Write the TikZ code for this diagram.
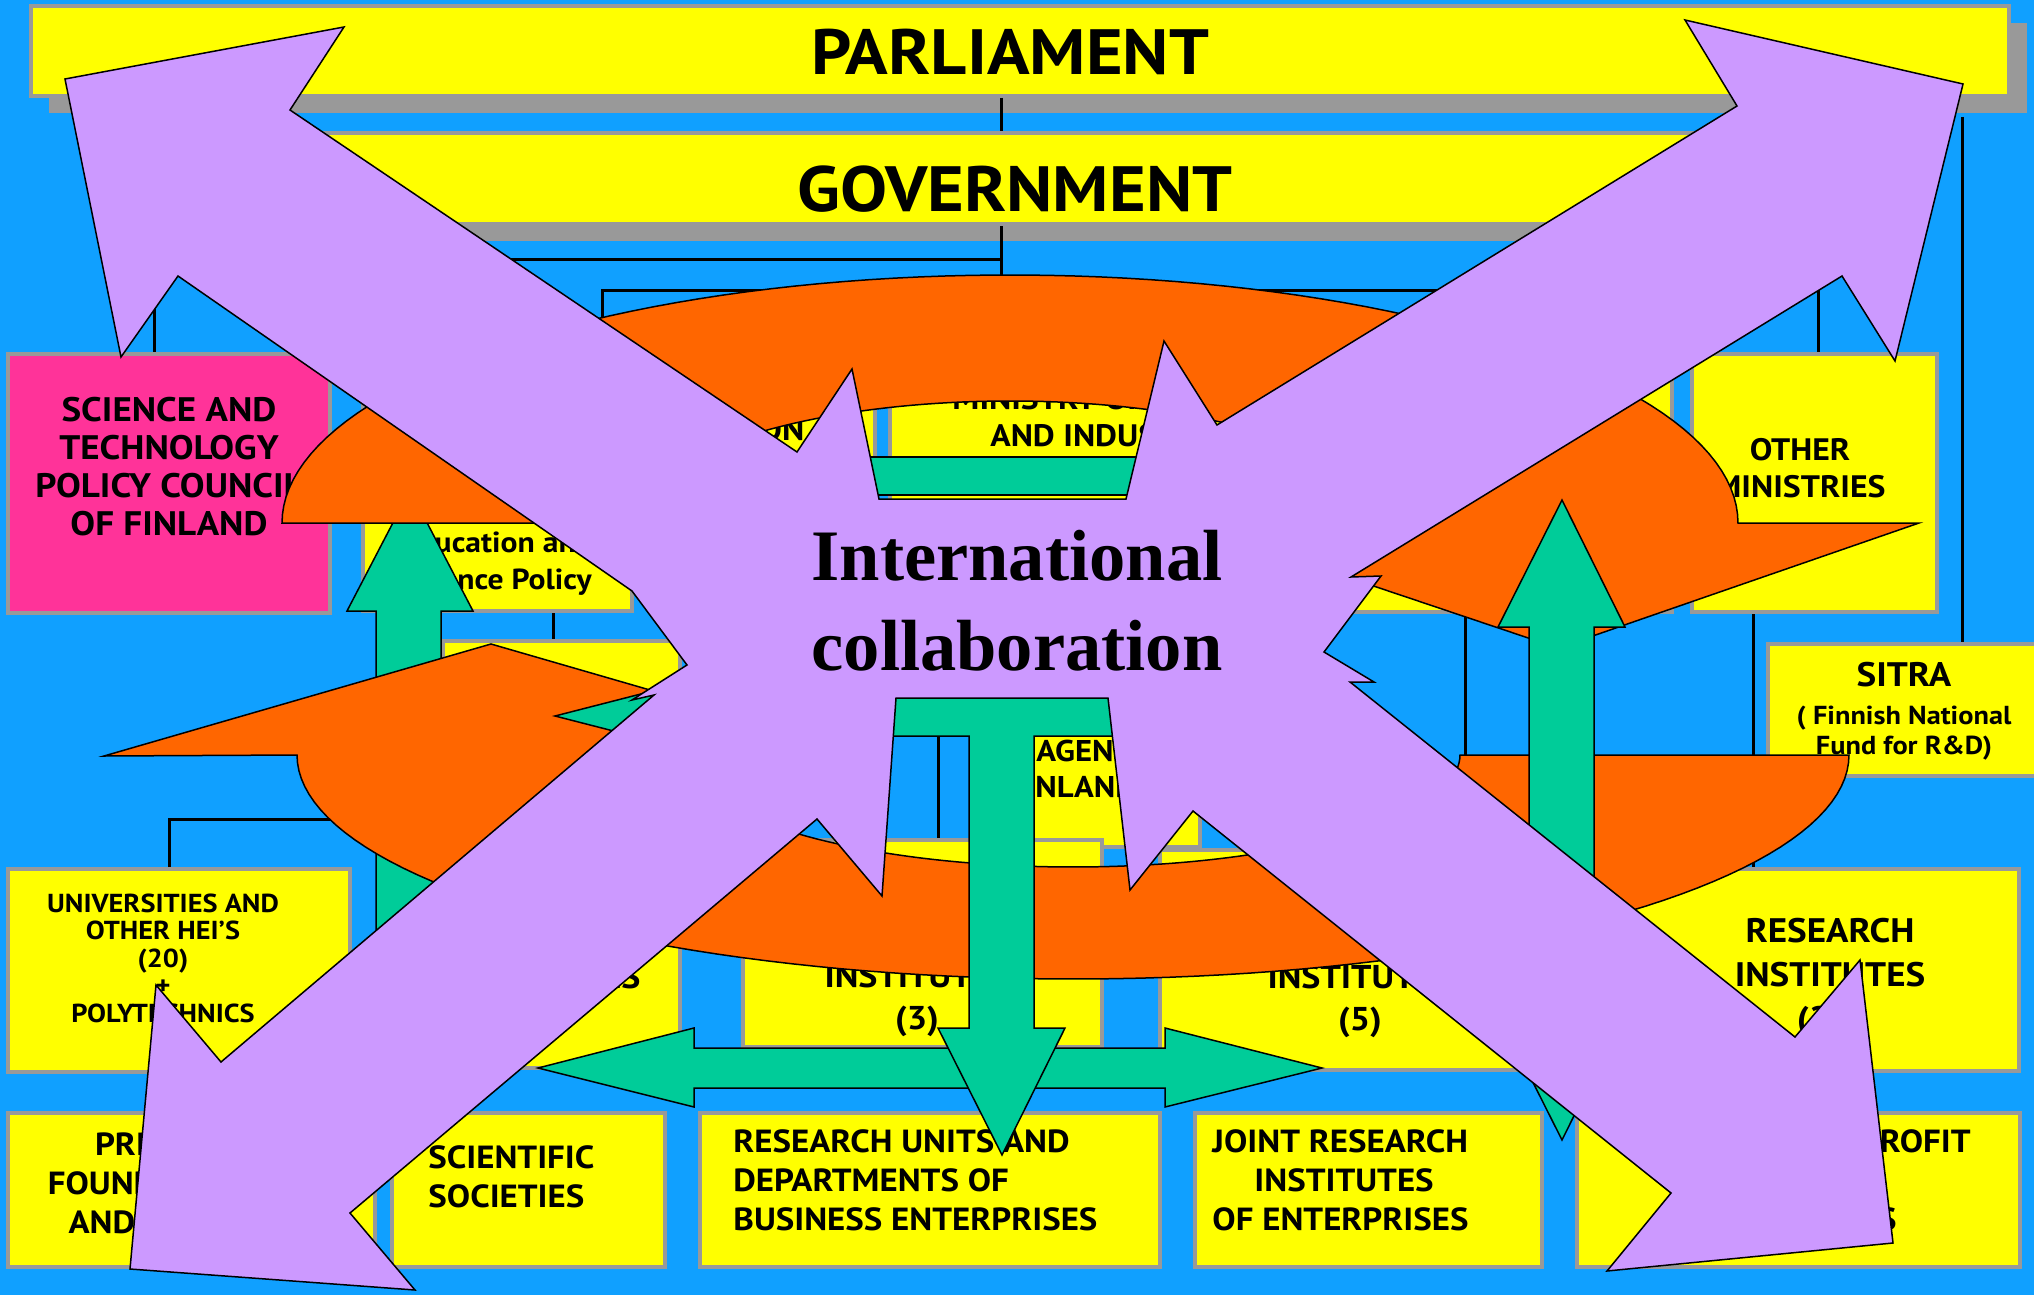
\documentclass[tikz,border=0pt]{standalone}
\usepackage{fontspec}
\setmainfont{PT Sans}[FakeStretch=1.09]
\newfontfamily\headfont{PT Sans}[FakeStretch=1.1]
\newfontfamily\collabfont{Liberation Serif}

\definecolor{sky}{RGB}{16,160,255}
\definecolor{boxgray}{RGB}{153,153,153}
\definecolor{lemon}{RGB}{255,255,0}
\definecolor{pinkbox}{RGB}{255,51,153}
\definecolor{flame}{RGB}{255,102,0}
\definecolor{jade}{RGB}{0,204,153}
\definecolor{lilac}{RGB}{204,153,255}

\newcommand\fsize[2]{\fontsize{#1}{#2}\selectfont\bfseries}

\tikzset{
  box/.style={draw=boxgray, line width=2pt, fill=lemon, inner sep=0pt},
  shadowed/.style={preaction={fill=boxgray, transform canvas={shift={(9pt,-8.5pt)}}}},
  txt/.style={inner sep=0pt, align=center},
  wire/.style={line width=1.5pt},
  ring/.style={fill=flame, draw=black, line width=0.75pt},
  greenarrow/.style={fill=jade, draw=black, line width=0.75pt},
  bigx/.style={fill=lilac, draw=black, line width=0.75pt}
}

\begin{document}
\begin{tikzpicture}[x=0.5pt,y=-0.5pt]
\useasboundingbox (0,0) rectangle (2034,1295);
\clip (0,0) rectangle (2034,1295);
\fill[sky] (0,0) rectangle (2034,1295);

% top level
\node[box,shadowed,minimum width=989pt,minimum height=45pt] (parl) at (1020,51) {};
\node[box,shadowed,minimum width=755pt,minimum height=45.5pt] (gov) at (1005,178.5) {};

% ministries row
\node[box,fill=pinkbox,minimum width=161pt,minimum height=129.5pt] (council) at (169,483.5) {};
\node[box,minimum width=256pt,minimum height=73pt] (edu) at (619,427) {};
\node[box,minimum width=134.5pt,minimum height=55.5pt] (policy) at (497.5,555.5) {};
\node[box,minimum width=212pt,minimum height=128.5pt] (trade) at (1102,482.5) {};
\node[box,minimum width=171pt,minimum height=129pt] (mins) at (1501,483) {};
\node[box,minimum width=122.5pt,minimum height=129pt] (other) at (1814.5,483) {};
\node[box,minimum width=138.5pt,minimum height=66pt] (sitra) at (1906.5,710) {};

% agencies and institutes
\node[box,minimum width=118.5pt,minimum height=213.5pt] (acad) at (561.5,854.5) {};
\node[box,minimum width=105pt,minimum height=103pt] (tekes) at (1095,744) {};
\node[box,minimum width=171pt,minimum height=101.5pt] (uni) at (179,970.5) {};
\node[box,minimum width=179.5pt,minimum height=103.5pt] (inst3) at (922.5,943.5) {};
\node[box,minimum width=207.5pt,minimum height=110pt] (inst5) at (1367.5,960) {};
\node[box,minimum width=207pt,minimum height=101pt] (resinst) at (1812,970) {};

% bottom row
\node[box,minimum width=183.5pt,minimum height=77pt] (found) at (191.5,1190) {};
\node[box,minimum width=136.5pt,minimum height=77pt] (soc) at (528.5,1190) {};
\node[box,minimum width=230pt,minimum height=77pt] (units) at (930,1190) {};
\node[box,minimum width=173.5pt,minimum height=77pt] (joint) at (1368.5,1190) {};
\node[box,minimum width=221.5pt,minimum height=77pt] (nonprofit) at (1798.5,1190) {};

% labels
\node[txt,font={\headfont\fsize{32}{40}}] (t-parl) at (1010,52) {PARLIAMENT};
\node[txt,font={\headfont\fsize{32}{40}}] (t-gov) at (1015,189) {GOVERNMENT};
\node[txt,font=\fsize{17}{19}] (t-council) at (169,467) {SCIENCE AND\\TECHNOLOGY\\POLICY COUNCIL\\OF FINLAND};
\node[txt,font=\fsize{15.5}{18.5}] (t-edu) at (619,430) {MINISTRY OF EDUCATION};
\node[txt,font=\fsize{14.5}{18.5}] (t-policy) at (497,564) {Education and\\Science Policy};
\node[txt,font=\fsize{15.5}{18.5}] (t-trade) at (1102,417) {MINISTRY OF TRADE\\AND INDUSTRY};
\node[txt,font=\fsize{15.5}{18.5}] (t-other) at (1800,468) {OTHER\\MINISTRIES};
\node[txt,font=\fsize{17}{20}] (t-sitra) at (1904,675) {SITRA};
\node[txt,font=\fsize{13}{15}] (t-fund) at (1904,733) {( Finnish National\\Fund for R\&D)};
\node[txt,font=\fsize{15}{18}, anchor=base west] (t-agency) at (1036,761) {AGENCY};
\node[txt,font=\fsize{15}{18}, anchor=base west] (t-finland) at (1009,797) {FINLAND};
\node[txt,font=\fsize{13}{13.75}] (t-uni) at (163,958) {UNIVERSITIES AND\\OTHER HEI’S\\(20)\\+\\POLYTECHNICS};
\node[txt,font=\fsize{16.5}{21}] (t-acad) at (548,977) {INSTITUTES};
\node[txt,font=\fsize{16.5}{21}] (t-inst3) at (917,1000) {INSTITUTES\\(3)};
\node[txt,font=\fsize{16.5}{21}] (t-inst5) at (1360,1001) {INSTITUTES\\(5)};
\node[txt,font=\fsize{17}{22}] (t-resinst) at (1830,978) {RESEARCH\\INSTITUTES\\(20)};
\node[txt,font=\fsize{16}{19.5}] (t-found) at (158,1183) {PRIVATE\\FOUNDATIONS\\AND FUNDS};
\node[txt,font=\fsize{16}{19.5},align=left,anchor=west] (t-soc) at (428,1177) {SCIENTIFIC\\SOCIETIES};
\node[txt,font=\fsize{16}{19.5},align=left,anchor=west] (t-units) at (733,1180) {RESEARCH UNITS AND\\DEPARTMENTS OF\\BUSINESS ENTERPRISES};
\node[txt,font=\fsize{16}{19.5},align=left,anchor=west] (t-joint) at (1212,1180) {JOINT RESEARCH\\\hspace*{21pt}INSTITUTES\\OF ENTERPRISES};
\node[txt,font=\fsize{16}{19.5}] (t-nonprofit) at (1807,1180) {PRIVATE NON-PROFIT\\RESEARCH\\INSTITUTES};

% connectors
\coordinate (jA) at (1001,259);
\coordinate (jB) at (1001,290);
\coordinate (sitraTop) at ([xshift=28pt]sitra.north);
\draw[wire] (parl.south -| jA) -- (gov.north -| jA);
\draw[wire] (gov.south -| jA) -- (jB);
\draw[wire] (jA) -| ([xshift=-7.5pt]council.north);
\draw[wire] ([xshift=-8.5pt]edu.north) |- (jB) -| ([xshift=1.75pt]other.north);
\draw[wire] (trade.north) |- (jB);
\draw[wire] ([yshift=-9.5pt]sitraTop |- parl.south) -- (sitraTop);
\draw[wire] ([xshift=-4.25pt]acad.north |- policy.south) -- ([xshift=-4.25pt]acad.north);
\draw[wire] ([xshift=-5pt]uni.north) |- ([yshift=17.75pt]acad.west);
\draw[wire] ([xshift=-82pt]trade.south) -- ([xshift=-82pt]trade.south |- inst3.north);
\draw[wire] ([xshift=-18pt]mins.south) -- ([xshift=-18pt]mins.south |- inst5.north);
\draw[wire] ([xshift=-30.75pt]other.south) -- ([xshift=-30.75pt]other.south |- resinst.north);

% green arrow behind the ring
\path[greenarrow] (376,1000) -- (376,611) -- (347,611) -- (410,490) -- (473,611) -- (441,611) -- (441,1000) -- cycle;

% the ring of two curved arrows
\path[ring] (282,523)
  -- plot[domain=180:0,samples=90] ({1010+728*cos(\x)},{523-248*sin(\x)})
  -- (1919,523) -- (1558,648) -- (1186,523) -- (1385,523)
  -- plot[domain=0:180,samples=90] ({1010+375*cos(\x)},{523-122*sin(\x)}) -- cycle;
\path[ring] (1849,755)
  -- plot[domain=0:180,samples=90] ({1073+776*cos(\x)},{755+224*sin(\x)})
  -- (104,756) -- (491,644) -- (878,756) -- (686,755)
  -- plot[domain=180:0,samples=90] ({1073+387*cos(\x)},{755+112*sin(\x)}) -- cycle;

% green arrows
\path[greenarrow] (860,457) rectangle (1145,495);
\path[greenarrow] (555,716) -- (711,676) -- (711,696) -- (900,696) -- (900,736) -- (711,736) -- (711,756) -- cycle;
\path[greenarrow] (1562,500) -- (1625,627) -- (1594,627) -- (1594,1013) -- (1625,1013) -- (1562,1140)
  -- (1498,1013) -- (1529,1013) -- (1529,627) -- (1498,627) -- cycle;
\path[greenarrow] (538,1068) -- (694,1028) -- (694,1048) -- (1165,1048) -- (1165,1028) -- (1322,1068)
  -- (1165,1107) -- (1165,1088) -- (694,1088) -- (694,1107) -- cycle;
\path[greenarrow] (880,690) -- (1125,690) -- (1125,736) -- (1034,736) -- (1034,1028) -- (1065,1028)
  -- (1002,1155) -- (938,1028) -- (969,1028) -- (969,736) -- (880,736) -- cycle;

% the big X
\path[bigx] (65,79) -- (344,27) -- (290,110) -- (797,452) -- (852,369) -- (879,499)
  -- (1126,499) -- (1164,341) -- (1217,425) -- (1737,106) -- (1685,20) -- (1963,84)
  -- (1895,361) -- (1842,276) -- (1351,577) -- (1381,576) -- (1324,652) -- (1374,682)
  -- (1350,682) -- (1795,1037) -- (1860,960) -- (1893,1243) -- (1607,1271) -- (1671,1193)
  -- (1193,811) -- (1130,890) -- (1108,698) -- (896,698) -- (882,896) -- (817,819)
  -- (350,1213) -- (415,1290) -- (130,1269) -- (156,985) -- (221,1062) -- (654,695)
  -- (632,700) -- (687,665) -- (632,591) -- (178,276) -- (121,357) -- cycle;

\node[txt,font={\collabfont\fsize{36.25}{45}}] (t-collab) at (1017,601) {International\\collaboration};
\end{tikzpicture}
\end{document}
